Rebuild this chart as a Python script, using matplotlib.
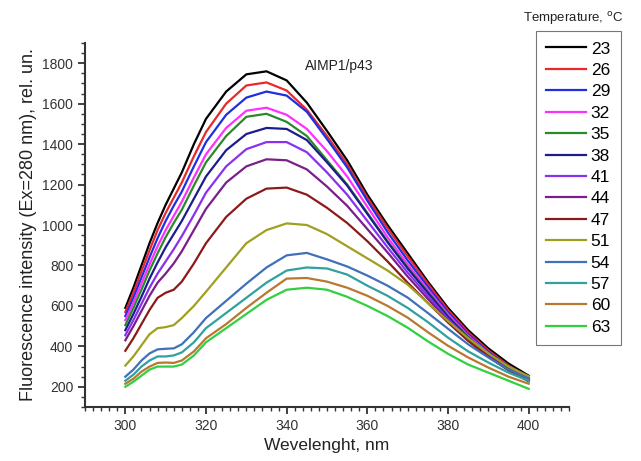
import matplotlib
matplotlib.use("Agg")
from matplotlib import pyplot as plt
from matplotlib.ticker import MultipleLocator

plt.rcParams['font.family'] = ['Liberation Sans', 'DejaVu Sans']

wl = [300, 302, 304, 306, 308, 310, 312, 314, 317, 320, 325, 330, 335, 340,
      345, 350, 355, 360, 365, 370, 375, 380, 385, 390, 395, 400]

temps = ['23', '26', '29', '32', '35', '38', '41', '44', '47', '51', '54', '57', '60', '63']

t23 = [590, 690, 800, 910, 1010, 1100, 1180, 1260, 1400, 1525, 1660, 1745, 1760, 1715,
       1605, 1465, 1320, 1150, 1000, 860, 720, 590, 480, 390, 315, 255]
t26 = [570, 665, 770, 875, 975, 1060, 1135, 1210, 1340, 1460, 1600, 1690, 1705, 1665,
       1570, 1440, 1300, 1135, 985, 845, 710, 580, 470, 380, 305, 245]
t29 = [550, 640, 740, 840, 935, 1020, 1095, 1165, 1290, 1410, 1545, 1630, 1660, 1640,
       1560, 1425, 1285, 1120, 965, 825, 695, 568, 460, 372, 300, 240]
t32 = [530, 615, 710, 805, 895, 975, 1045, 1115, 1235, 1350, 1480, 1565, 1580, 1545,
       1475, 1365, 1240, 1090, 940, 805, 680, 558, 452, 365, 295, 238]
t35 = [505, 590, 680, 775, 860, 940, 1010, 1075, 1195, 1310, 1440, 1535, 1550, 1510,
       1440, 1320, 1200, 1060, 920, 790, 670, 550, 447, 360, 290, 235]
t38 = [480, 560, 645, 735, 815, 890, 955, 1020, 1130, 1240, 1370, 1450, 1480, 1475,
       1420, 1310, 1195, 1055, 915, 785, 665, 545, 442, 355, 287, 232]
t41 = [455, 530, 610, 690, 760, 820, 880, 945, 1050, 1160, 1290, 1375, 1410, 1410,
       1360, 1260, 1150, 1020, 890, 765, 650, 535, 437, 352, 285, 230]
t44 = [430, 500, 575, 650, 715, 760, 810, 870, 975, 1080, 1210, 1290, 1325, 1320,
       1275, 1190, 1095, 980, 865, 745, 635, 527, 432, 350, 283, 228]
t47 = [378, 440, 510, 580, 640, 665, 680, 720, 810, 910, 1040, 1130, 1180, 1185,
       1150, 1085, 1010, 920, 820, 715, 615, 518, 427, 348, 282, 228]
t51 = [305, 350, 405, 460, 490, 495, 505, 540, 600, 670, 790, 910, 975, 1008,
       1000, 955, 895, 835, 775, 705, 615, 525, 440, 365, 300, 252]
t54 = [250, 285, 330, 365, 385, 388, 390, 410, 470, 540, 625, 710, 790, 850,
       862, 830, 795, 750, 700, 641, 565, 487, 410, 345, 285, 240]
t57 = [230, 260, 300, 330, 350, 350, 355, 370, 420, 490, 565, 640, 715, 775,
       790, 785, 755, 700, 650, 590, 520, 443, 375, 320, 270, 230]
t60 = [215, 240, 275, 300, 318, 320, 318, 330, 375, 440, 510, 590, 665, 735,
       738, 720, 690, 650, 600, 542, 470, 403, 345, 295, 250, 215]
t63 = [200, 225, 255, 285, 300, 300, 300, 310, 355, 420, 490, 560, 630, 680,
       690, 680, 645, 600, 550, 492, 425, 363, 310, 270, 230, 190]

series = [t23, t26, t29, t32, t35, t38, t41, t44, t47, t51, t54, t57, t60, t63]
colors = ['#000000', '#e8282a', '#1f2fe0', '#ff30ff', '#2a8a2a', '#1c1c8c', '#8a30f0',
          '#7a1f8a', '#8b1a1a', '#a0a020', '#4070b8', '#30a0a0', '#b87830', '#30d040']

fig = plt.figure(figsize=(6.41, 4.61), dpi=100)
ax = fig.add_axes([0.1326, 0.1171, 0.7551, 0.7896])

for t, s, c in zip(temps, series, colors):
    ax.plot(wl, s, color=c, lw=1.6, label=t)

ax.set_xlim(290, 410)
ax.set_ylim(100, 1900)
ax.xaxis.set_major_locator(MultipleLocator(20))
ax.xaxis.set_minor_locator(MultipleLocator(2))
ax.yaxis.set_major_locator(MultipleLocator(200))
ax.yaxis.set_minor_locator(MultipleLocator(50))
ax.spines['top'].set_visible(False)
ax.spines['right'].set_visible(False)
for sp in ['left', 'bottom']:
    ax.spines[sp].set_linewidth(1.5)
    ax.spines[sp].set_color('#333333')
ax.tick_params(which='major', direction='out', length=5, width=1.3, colors='#333333', labelsize=10)
ax.tick_params(which='minor', direction='out', length=3, width=1.0, colors='#333333')
ax.set_xlabel('Wevelenght, nm', fontsize=12.5, color='#222222')
ax.set_ylabel('Fluorescence intensity (Ex=280 nm), rel. un.', fontsize=13, color='#222222')

ax.text(344.5, 1785, 'AIMP1/p43', fontsize=10, color='#222222', va='center')

leg = ax.legend(loc='upper left', bbox_to_anchor=(536 / 641, 1 - 31 / 461),
                bbox_transform=fig.transFigure, fontsize=12.5, frameon=True,
                fancybox=False, borderaxespad=0, borderpad=0.6, labelspacing=0.36,
                handlelength=2.3, handletextpad=0.25)
leg.get_frame().set_edgecolor('#555555')
leg.get_frame().set_linewidth(0.8)
fig.text(523 / 641, 1 - 19 / 461, 'Temperature, $^{\\rm o}$C', fontsize=9.5,
         va='center', ha='left', color='#222222')

fig.savefig('out.png', dpi=100)
